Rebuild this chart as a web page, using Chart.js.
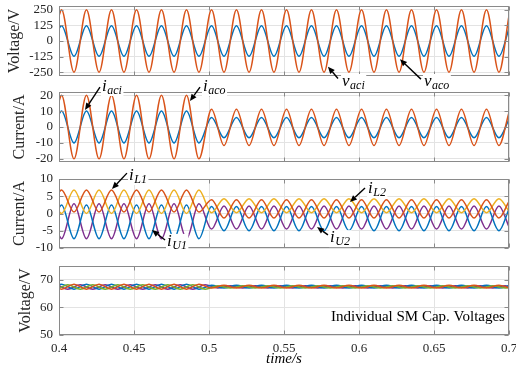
<!DOCTYPE html>
<html><head><meta charset="utf-8">
<script src="https://cdn.jsdelivr.net/npm/chart.js@4"></script>
<style>
html,body{margin:0;padding:0;background:#fff;}
#wrap{position:relative;width:516px;height:381px;overflow:hidden;background:#fff;}
canvas{position:absolute;left:0;top:0;}
</style></head><body>
<div id="wrap">
<canvas id="c1" width="516" height="381"></canvas>
<canvas id="c2" width="516" height="381"></canvas>
<canvas id="c3" width="516" height="381"></canvas>
<canvas id="c4" width="516" height="381"></canvas>
</div>
<script>
// ---------- data ----------
const xTicks = [0.4, 0.45, 0.5, 0.55, 0.6, 0.65, 0.7];
const xTickLabels = ['0.4', '0.45', '0.5', '0.55', '0.6', '0.65', '0.7'];

// times of the waveform extremes (60 Hz, half-period steps)
const tPeak = [0.4,
  0.4017,0.4100,0.4183,0.4267,0.4350,0.4433,0.4517,0.4600,0.4683,0.4767,0.4850,0.4933,
  0.5017,0.5100,0.5183,0.5267,0.5350,0.5433,0.5517,0.5600,0.5683,0.5767,0.5850,0.5933,
  0.6017,0.6100,0.6183,0.6267,0.6350,0.6433,0.6517,0.6600,0.6683,0.6767,0.6850,0.6933,
  0.7];
const tQuad = [0.4,
  0.4058,0.4142,0.4225,0.4308,0.4392,0.4475,0.4558,0.4642,0.4725,0.4808,0.4892,0.4975,
  0.5058,0.5142,0.5225,0.5308,0.5392,0.5475,0.5558,0.5642,0.5725,0.5808,0.5892,0.5975,
  0.6058,0.6142,0.6225,0.6308,0.6392,0.6475,0.6558,0.6642,0.6725,0.6808,0.6892,0.6975,
  0.7];

// panel 1: voltages
const vAci = [203,
  250,-250,250,-250,250,-250,250,-250,250,-250,250,-250,
  250,-250,250,-250,250,-250,250,-250,250,-250,250,-250,
  250,-250,250,-250,250,-250,250,-250,250,-250,250,-250,
  203];
const vAco = [99,
  122,-122,122,-122,122,-122,122,-122,122,-122,122,-122,
  122,-122,122,-122,122,-122,122,-122,122,-122,122,-122,
  122,-122,122,-122,122,-122,122,-122,122,-122,122,-122,
  99];
// panel 2: ac currents
const iAci = [16.2,
  20,-20,20,-20,20,-20,20,-20,20,-20,20,-20,
  11.2,-11.6,11.2,-11.6,11.2,-11.6,11.2,-11.6,11.2,-11.6,11.2,-11.6,
  11.2,-11.6,11.2,-11.6,11.2,-11.6,11.2,-11.6,11.2,-11.6,11.2,-11.6,
  9.1];
const iAco = [8.1,
  10,-10,10,-10,10,-10,10,-10,10,-10,10,-10,
  6.0,-6.8,6.0,-6.8,6.0,-6.8,6.0,-6.8,6.0,-6.8,6.0,-6.8,
  6.0,-6.8,6.0,-6.8,6.0,-6.8,6.0,-6.8,6.0,-6.8,6.0,-6.8,
  4.8];
// panel 3: arm currents
const iL1 = [6.2,
  6.8,0.4,6.8,0.4,6.8,0.4,6.8,0.4,6.8,0.4,6.8,0.4,
  4.0,-1.3,4.0,-1.3,4.0,-1.3,4.0,-1.3,4.0,-1.3,4.0,-1.3,
  4.0,-1.3,4.0,-1.3,4.0,-1.3,4.0,-1.3,4.0,-1.3,4.0,-1.3,
  3.5];
const iL2 = [0.65,
  0.0,6.8,0.0,6.8,0.0,6.8,0.0,6.8,0.0,6.8,0.0,6.8,
  0.2,4.3,0.2,4.3,0.2,4.3,0.2,4.3,0.2,4.3,0.2,4.3,
  0.2,4.3,0.2,4.3,0.2,4.3,0.2,4.3,0.2,4.3,0.2,4.3,
  0.7];
const iU1 = [1.6,
  2.5,-7.3,2.5,-7.3,2.5,-7.3,2.5,-7.3,2.5,-7.3,2.5,-7.3,
  2.0,-5.0,2.0,-5.0,2.0,-5.0,2.0,-5.0,2.0,-5.0,2.0,-5.0,
  2.0,-5.0,2.0,-5.0,2.0,-5.0,2.0,-5.0,2.0,-5.0,2.0,-5.0,
  1.3];
const iU2 = [-6.35,
  -7.3,2.8,-7.3,2.8,-7.3,2.8,-7.3,2.8,-7.3,2.8,-7.3,2.8,
  -4.5,2.2,-4.5,2.2,-4.5,2.2,-4.5,2.2,-4.5,2.2,-4.5,2.2,
  -4.5,2.2,-4.5,2.2,-4.5,2.2,-4.5,2.2,-4.5,2.2,-4.5,2.2,
  -3.85];
// panel 4: SM capacitor voltages
const vC1 = [68.2,
  68.4,66.6,68.4,66.6,68.4,66.6,68.4,66.6,68.4,66.6,68.4,66.6,
  68.0,67.0,68.0,67.0,68.0,67.0,68.0,67.0,68.0,67.0,68.0,67.0,
  68.0,67.0,68.0,67.0,68.0,67.0,68.0,67.0,68.0,67.0,68.0,67.0,
  67.9];
const vC2 = [66.8,
  66.6,68.4,66.6,68.4,66.6,68.4,66.6,68.4,66.6,68.4,66.6,68.4,
  67.0,68.0,67.0,68.0,67.0,68.0,67.0,68.0,67.0,68.0,67.0,68.0,
  67.0,68.0,67.0,68.0,67.0,68.0,67.0,68.0,67.0,68.0,67.0,68.0,
  67.1];
const vC3 = [66.9,
  68.2,66.6,68.2,66.6,68.2,66.6,68.2,66.6,68.2,66.6,68.2,66.6,
  67.8,67.0,67.8,67.0,67.8,67.0,67.8,67.0,67.8,67.0,67.8,67.0,
  67.8,67.0,67.8,67.0,67.8,67.0,67.8,67.0,67.8,67.0,67.8,67.0,
  67.16];
const vC4 = [67.9,
  66.6,68.2,66.6,68.2,66.6,68.2,66.6,68.2,66.6,68.2,66.6,68.2,
  67.0,67.8,67.0,67.8,67.0,67.8,67.0,67.8,67.0,67.8,67.0,67.8,
  67.0,67.8,67.0,67.8,67.0,67.8,67.0,67.8,67.0,67.8,67.0,67.8,
  67.64];

const yTicks1 = [-250, -125, 0, 125, 250];
const yLabels1 = ['-250', '-125', '0', '125', '250'];
const yTicks2 = [-20, -10, 0, 10, 20];
const yLabels2 = ['-20', '-10', '0', '10', '20'];
const yTicks3 = [-10, -5, 0, 5, 10];
const yLabels3 = ['-10', '-5', '0', '5', '10'];
const yTicks4 = [50, 60, 70];
const yLabels4 = ['50', '60', '70'];

// ---------- styling ----------
const BLUE = '#0072BD', ORANGE = '#D95319', YELLOW = '#EDB120', PURPLE = '#7E2F8E', GREEN = '#77AC30';
const FONT = "'Liberation Serif', 'Times New Roman', serif";
Chart.defaults.font.family = FONT;
Chart.defaults.color = '#262626';

const framePlugin = {
  id: 'frame',
  afterDatasetsDraw(chart) {
    const {ctx, chartArea: a, scales: {x, y}} = chart;
    ctx.save();
    ctx.strokeStyle = '#8a8a8a';
    ctx.lineWidth = 1;
    const L = Math.round(a.left) + 0.5, R = Math.round(a.right) - 0.5;
    const T = Math.round(a.top) + 0.5, B = Math.round(a.bottom) - 0.5;
    ctx.strokeRect(L, T, R - L, B - T);
    ctx.beginPath();
    x.ticks.forEach(t => {
      const p = Math.round(x.getPixelForValue(t.value)) + 0.5;
      ctx.moveTo(p, B); ctx.lineTo(p, B - 4);
      ctx.moveTo(p, T); ctx.lineTo(p, T + 4);
    });
    y.ticks.forEach(t => {
      const p = Math.round(y.getPixelForValue(t.value)) + 0.5;
      ctx.moveTo(L, p); ctx.lineTo(L + 4, p);
      ctx.moveTo(R, p); ctx.lineTo(R - 4, p);
    });
    ctx.stroke();
    ctx.restore();
  }
};

function arrow(ctx, x1, y1, x2, y2) {
  const ang = Math.atan2(y2 - y1, x2 - x1), Lh = 7, W = 3;
  const bx = x2 - Lh * Math.cos(ang), by = y2 - Lh * Math.sin(ang);
  ctx.strokeStyle = '#000'; ctx.fillStyle = '#000'; ctx.lineWidth = 1.4;
  ctx.beginPath(); ctx.moveTo(x1, y1); ctx.lineTo(bx, by); ctx.stroke();
  ctx.beginPath(); ctx.moveTo(x2, y2);
  ctx.lineTo(bx + W * Math.sin(ang), by - W * Math.cos(ang));
  ctx.lineTo(bx - W * Math.sin(ang), by + W * Math.cos(ang));
  ctx.closePath(); ctx.fill();
}

function makeNotes(notes) {
  return {
    id: 'notes',
    afterDraw(chart) {
      const {ctx, scales: {x, y}} = chart;
      const P = (t, v) => [x.getPixelForValue(t), y.getPixelForValue(v)];
      ctx.save();
      notes.forEach(n => {
        if (n.plain) {
          const [tx, ty] = P(n.at[0], n.at[1]);
          ctx.font = '15px ' + FONT;
          ctx.fillStyle = '#000';
          ctx.textAlign = 'right'; ctx.textBaseline = 'alphabetic';
          ctx.fillText(n.plain, tx, ty);
          return;
        }
        const [hx, hy] = P(n.head[0], n.head[1]);
        const [sx, sy] = P(n.tail[0], n.tail[1]);
        const [tx, ty] = P(n.text[0], n.text[1]);
        ctx.textAlign = 'left'; ctx.textBaseline = 'alphabetic';
        ctx.font = 'italic 17px ' + FONT;
        const w1 = ctx.measureText(n.sym).width;
        ctx.font = 'italic 12px ' + FONT;
        const w2 = ctx.measureText(n.sub).width;
        ctx.fillStyle = '#fff';
        ctx.fillRect(tx - 1, ty - 12, w1 + w2 + 3, 17);
        ctx.fillStyle = '#000';
        ctx.font = 'italic 17px ' + FONT;
        ctx.fillText(n.sym, tx, ty);
        ctx.font = 'italic 12px ' + FONT;
        ctx.fillText(n.sub, tx + w1 + 0.5, ty + 3);
        arrow(ctx, sx, sy, hx, hy);
      });
      ctx.restore();
    }
  };
}

function panel(id, spec) {
  const datasets = spec.series.map(s => ({
    data: s.t.map((t, i) => ({x: t, y: s.v[i]})),
    borderColor: s.color, borderWidth: 1.5, pointRadius: 0,
    cubicInterpolationMode: 'monotone', fill: false
  }));
  return new Chart(document.getElementById(id), {
    type: 'line',
    data: {datasets},
    options: {
      responsive: false, animation: false, devicePixelRatio: 1, events: [],
      layout: {padding: {left: 0, right: 7, top: spec.top, bottom: spec.bottom}},
      plugins: {legend: {display: false}, tooltip: {enabled: false}},
      scales: {
        x: {
          type: 'linear', min: 0.4, max: 0.7,
          afterBuildTicks: s => { s.ticks = xTicks.map(v => ({value: v})); },
          afterFit: s => { s.height = spec.xHeight; s.paddingLeft = 0; s.paddingRight = 0; },
          grid: {color: '#e3e3e3', drawTicks: false},
          border: {display: false},
          ticks: {display: spec.showX, autoSkip: false, padding: 6, font: {size: 13}, maxRotation: 0,
                  callback: v => xTickLabels[xTicks.indexOf(v)]},
          title: {display: spec.showX, text: 'time/s', font: {size: 15, style: 'italic'}, padding: 0, color: '#000'}
        },
        y: {
          min: spec.ymin, max: spec.ymax,
          afterBuildTicks: s => { s.ticks = spec.yTicks.map(v => ({value: v})); },
          afterFit: s => { s.width = 59; s.paddingTop = 0; s.paddingBottom = 0; },
          grid: {color: '#e3e3e3', drawTicks: false},
          border: {display: false},
          ticks: {autoSkip: false, padding: 6, font: {size: 13},
                  callback: v => spec.yLabels[spec.yTicks.indexOf(v)]},
          title: {display: true, text: spec.ytitle, font: {size: 16}, color: '#262626',
                  padding: {top: spec.titlePad, bottom: 0}}
        }
      }
    },
    plugins: [framePlugin, makeNotes(spec.notes || [])]
  });
}

panel('c1', {
  top: 6, bottom: 305, xHeight: 0, showX: false,
  ymin: -280, ymax: 280, yTicks: yTicks1, yLabels: yLabels1, ytitle: 'Voltage/V', titlePad: 5,
  series: [{t: tPeak, v: vAci, color: ORANGE}, {t: tPeak, v: vAco, color: BLUE}],
  notes: [
    {sym: 'v', sub: 'aci', head: [0.5793, -206], tail: [0.586, -300], text: [0.5887, -360]},
    {sym: 'v', sub: 'aco', head: [0.6273, -146], tail: [0.6413, -305], text: [0.6433, -360]}
  ]
});
panel('c2', {
  top: 92, bottom: 219, xHeight: 0, showX: false,
  ymin: -22, ymax: 22, yTicks: yTicks2, yLabels: yLabels2, ytitle: 'Current/A', titlePad: 10,
  series: [{t: tPeak, v: iAci, color: ORANGE}, {t: tPeak, v: iAco, color: BLUE}],
  notes: [
    {sym: 'i', sub: 'aci', head: [0.4173, 10.7], tail: [0.4273, 25.1], text: [0.4287, 22.6]},
    {sym: 'i', sub: 'aco', head: [0.4873, 16.3], tail: [0.494, 25.1], text: [0.496, 22.6]}
  ]
});
panel('c3', {
  top: 179, bottom: 133, xHeight: 0, showX: false,
  ymin: -10, ymax: 10, yTicks: yTicks3, yLabels: yLabels3, ytitle: 'Current/A', titlePad: 10,
  series: [{t: tPeak, v: iL1, color: ORANGE}, {t: tPeak, v: iL2, color: YELLOW},
           {t: tPeak, v: iU1, color: BLUE}, {t: tPeak, v: iU2, color: PURPLE}],
  notes: [
    {sym: 'i', sub: 'L1', head: [0.4353, 7.1], tail: [0.4453, 11.7], text: [0.4467, 9.7]},
    {sym: 'i', sub: 'U1', head: [0.462, -4.8], tail: [0.4707, -7.7], text: [0.472, -9.4]},
    {sym: 'i', sub: 'L2', head: [0.594, 3.3], tail: [0.604, 7.4], text: [0.606, 5.9]},
    {sym: 'i', sub: 'U2', head: [0.572, -3.9], tail: [0.5793, -6.2], text: [0.5807, -8.3]}
  ]
});
panel('c4', {
  top: 266, bottom: 13, xHeight: 33, showX: true,
  ymin: 50, ymax: 75, yTicks: yTicks4, yLabels: yLabels4, ytitle: 'Voltage/V', titlePad: 16,
  series: [{t: tPeak, v: vC2, color: ORANGE}, {t: tQuad, v: vC3, color: GREEN},
           {t: tPeak, v: vC1, color: BLUE}, {t: tQuad, v: vC4, color: PURPLE}],
  notes: [
    {plain: 'Individual SM Cap. Voltages', at: [0.6973, 55.1]}
  ]
});
</script>
</body></html>
